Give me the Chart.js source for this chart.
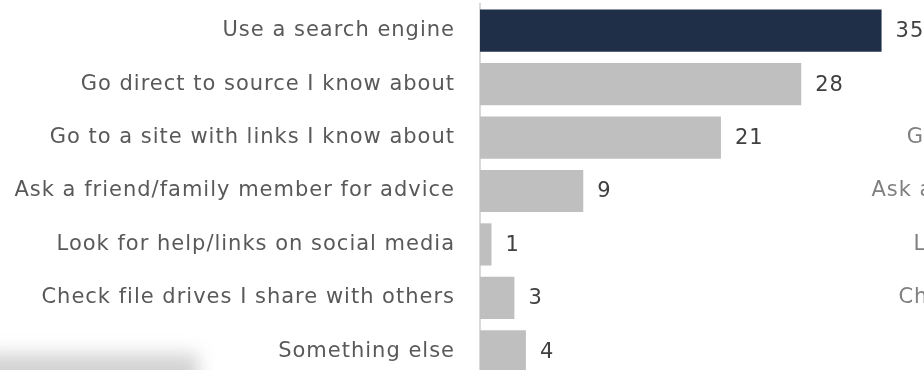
<!DOCTYPE html>
<html>
<head>
<meta charset="utf-8">
<script src="https://cdn.jsdelivr.net/npm/chart.js@4"></script>
<style>
  html, body { margin: 0; padding: 0; background: #fff; overflow: hidden; }
  #wrap { position: relative; width: 924px; height: 378px; }
  #howFindChart { display: block; }
  #shade { position: absolute; left: -20px; top: 354px; width: 218px; height: 40px;
           background: #d2d2d2; filter: blur(9px); }
</style>
</head>
<body>
<div id="wrap">
  <canvas id="howFindChart" width="924" height="378"></canvas>
  <div id="shade"></div>
</div>
<script>
// How people look for things online (%)
const categories = [
  'Use a search engine',
  'Go direct to source I know about',
  'Go to a site with links I know about',
  'Ask a friend/family member for advice',
  'Look for help/links on social media',
  'Check file drives I share with others',
  'Something else'
];
const values = [35, 28, 21, 9, 1, 3, 4];

const labelFont = { family: 'DejaVu Sans', size: 21 };
const spacing = '1px';
const highlight = '#1f2f48';
const muted = '#bfbfbf';

// wider tracking for all text on the canvas
const tracking = {
  id: 'tracking',
  beforeDraw(chart) { chart.ctx.letterSpacing = spacing; },
  afterDraw(chart) { chart.ctx.letterSpacing = '0px'; }
};

// value next to the end of each bar
const valueLabels = {
  id: 'valueLabels',
  afterDatasetsDraw(chart) {
    const ctx = chart.ctx;
    const meta = chart.getDatasetMeta(0);
    ctx.save();
    ctx.letterSpacing = spacing;
    ctx.font = '21px "DejaVu Sans"';
    ctx.fillStyle = '#404040';
    ctx.textAlign = 'left';
    ctx.textBaseline = 'middle';
    meta.data.forEach((bar, i) => {
      ctx.fillText(String(values[i]), bar.x + 14, bar.y + 1);
    });
    ctx.restore();
  }
};

// the neighbouring panel's category column, just peeking in at the right edge
const nextPanel = {
  id: 'nextPanel',
  afterDraw(chart) {
    const ctx = chart.ctx;
    const y = chart.scales.y;
    ctx.save();
    ctx.letterSpacing = spacing;
    ctx.font = '21px "DejaVu Sans"';
    ctx.fillStyle = '#808080';
    ctx.textAlign = 'right';
    ctx.textBaseline = 'middle';
    categories.forEach((c, i) => {
      ctx.fillText(c, y.right - 25 + 857, y.getPixelForTick(i));
    });
    ctx.restore();
  }
};

new Chart(document.getElementById('howFindChart'), {
  type: 'bar',
  data: {
    labels: categories,
    datasets: [{
      data: values,
      backgroundColor: values.map((v, i) => i === 0 ? highlight : muted),
      borderWidth: 0,
      barPercentage: 0.79,
      categoryPercentage: 1
    }]
  },
  options: {
    indexAxis: 'y',
    responsive: false,
    animation: false,
    layout: { padding: { top: 4, right: 8, left: 0, bottom: 0 } },
    plugins: { legend: { display: false }, tooltip: { enabled: false } },
    scales: {
      x: { display: false, min: 0, max: 38 },
      y: {
        grid: { display: false, drawTicks: false },
        border: { display: true, color: '#d9d9d9', width: 2 },
        ticks: { color: '#595959', font: labelFont, padding: 25 },
        afterFit(scale) {
          scale.width = 480;
          // tick padding is only wanted horizontally
          scale.paddingTop = 0;
          scale.paddingBottom = 0;
        }
      }
    }
  },
  plugins: [tracking, valueLabels, nextPanel]
});
</script>
</body>
</html>
